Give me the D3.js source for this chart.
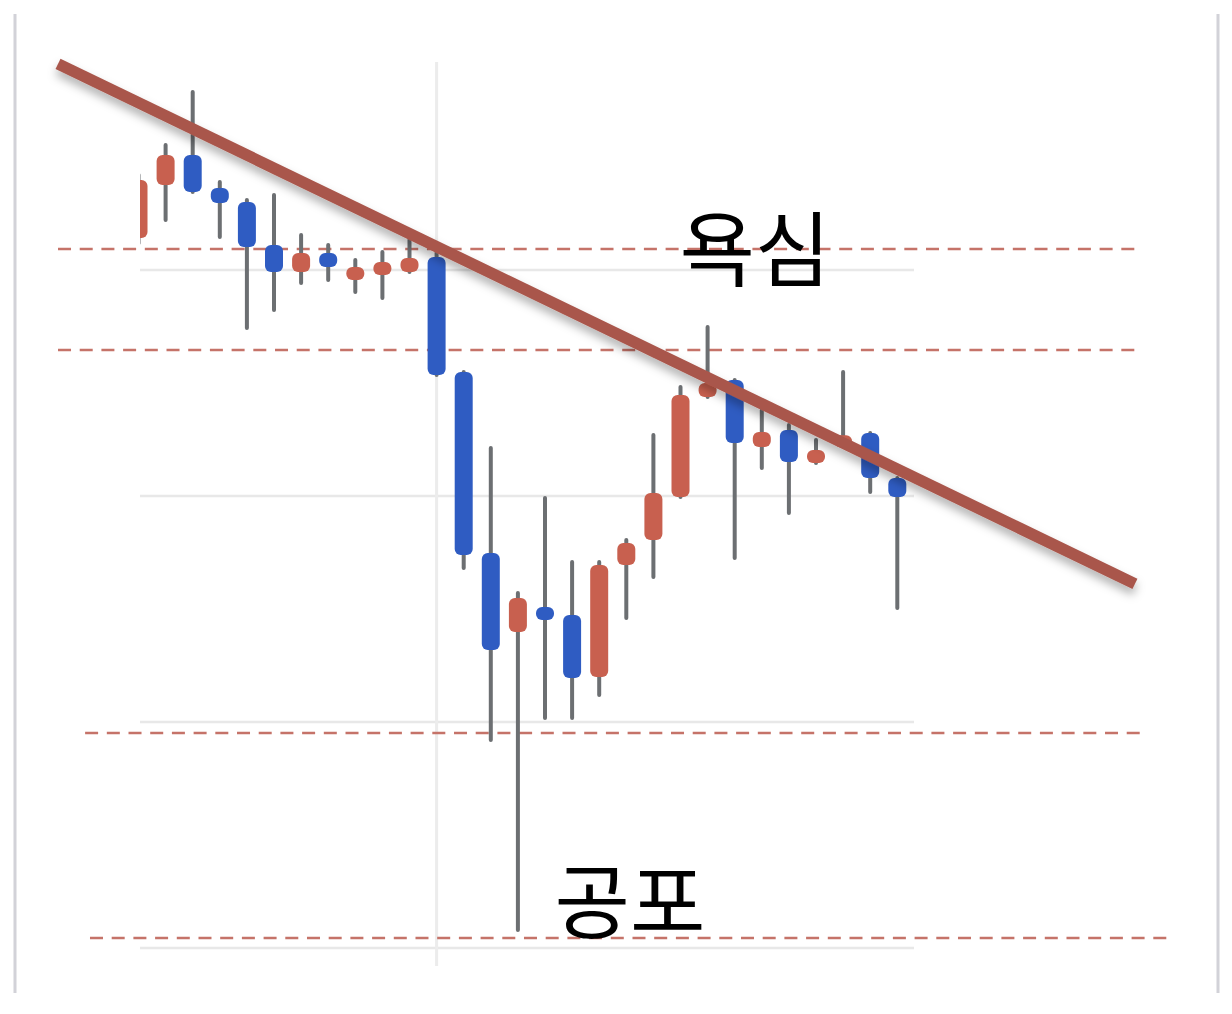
<!DOCTYPE html>
<html lang="ko">
<head>
    <meta charset="UTF-8">
    <title>욕심과 공포</title>
    <script src="https://d3js.org/d3.v7.min.js"></script>
    <style>
        html, body { margin: 0; padding: 0; background: #fff; }
        svg { display: block; }
        .label { font-family: "Noto Sans CJK KR", "Noto Sans", sans-serif; font-size: 82px; font-weight: 400; fill: #000; }
    </style>
</head>
<body>
    <svg width="1232" height="1014"></svg>
    <script>
        // candle values (index = day)
        const opens  = [41.42, 43.76, 45.09, 43.63, 43.01, 41.11, 39.91, 40.75, 39.56, 39.78, 39.91, 40.58, 35.49, 27.48, 23.98,
                        25.09, 24.73, 21.99, 26.95, 28.05, 29.96, 34.38, 35.13, 32.17, 32.92, 31.46, 32.30, 32.79, 30.80];
        const highs  = [44.20, 45.53, 47.88, 43.89, 43.10, 43.32, 41.55, 41.11, 40.44, 40.80, 41.55, 40.88, 35.49, 32.12, 25.71,
                        29.91, 27.08, 27.08, 28.05, 32.70, 34.82, 37.48, 35.13, 33.81, 33.14, 32.48, 35.49, 32.79, 30.80];
        const lows   = [41.20, 42.21, 43.45, 41.46, 37.43, 38.23, 39.42, 39.56, 39.03, 38.76, 39.91, 35.35, 26.81, 19.20, 10.80,
                        20.18, 20.18, 21.19, 24.60, 26.42, 29.96, 34.38, 27.26, 31.24, 29.25, 31.46, 32.25, 30.18, 25.04];
        const closes = [43.98, 45.09, 43.45, 42.96, 41.02, 39.91, 40.75, 40.13, 40.13, 40.35, 40.53, 35.35, 27.39, 23.19, 25.49,
                        24.51, 21.95, 26.95, 27.92, 30.13, 34.47, 35.00, 32.35, 32.83, 31.50, 32.04, 32.55, 30.80, 29.96];

        const gridLevels = [10, 20, 30, 40];

        // dashed support / resistance levels, with start / end in day units
        const levelPrices = [40.93, 36.46, 19.51, 10.44];
        const levelStart  = [-2.97, -2.97, -1.97, -1.79];
        const levelEnd    = [36.96, 36.96, 36.96, 38.07];

        // trend line: two points (day, price)
        const trendDays   = [-2.97, 36.77];
        const trendPrices = [49.12, 26.11];

        const labelTexts = ["욕심", "공포"];

        const candles = opens.map((o, i) => ({ i, o, h: highs[i], l: lows[i], c: closes[i] }));

        const svg = d3.select("svg");

        const x = d3.scaleLinear().domain([0, 28]).range([138.5, 897.3]);
        const y = d3.scaleLinear().domain([10, 40]).range([948, 270]);

        const defs = svg.append("defs");
        defs.append("clipPath").attr("id", "plot-clip")
            .append("rect").attr("x", 140).attr("y", 0).attr("width", 1092).attr("height", 1014);
        const shadow = defs.append("filter").attr("id", "shadow")
            .attr("x", "-10%").attr("y", "-50%").attr("width", "120%").attr("height", "200%");
        shadow.append("feDropShadow")
            .attr("dx", 0).attr("dy", 6).attr("stdDeviation", 5)
            .attr("flood-color", "#000").attr("flood-opacity", 0.3);

        // frame lines left / right
        svg.selectAll(".frame")
            .data([15, 1218])
            .enter().append("line")
            .attr("x1", d => d).attr("x2", d => d)
            .attr("y1", 14).attr("y2", 993)
            .attr("stroke", "#d2d2d8").attr("stroke-width", 3);

        // gridlines
        svg.selectAll(".grid")
            .data(gridLevels)
            .enter().append("line")
            .attr("x1", 140).attr("x2", 914)
            .attr("y1", d => y(d)).attr("y2", d => y(d))
            .attr("stroke", "#e8e8e8").attr("stroke-width", 2.5);

        // vertical marker at day 11
        svg.append("line")
            .attr("x1", x(11)).attr("x2", x(11))
            .attr("y1", 62).attr("y2", 966)
            .attr("stroke", "#ececec").attr("stroke-width", 3);

        // dashed levels
        svg.selectAll(".level")
            .data(levelPrices)
            .enter().append("line")
            .attr("x1", (d, i) => x(levelStart[i]))
            .attr("x2", (d, i) => x(levelEnd[i]))
            .attr("y1", d => y(d)).attr("y2", d => y(d))
            .attr("stroke", "#c57369").attr("stroke-width", 2.5)
            .attr("stroke-dasharray", "13 8.7");

        // candles
        const g = svg.append("g").attr("clip-path", "url(#plot-clip)");
        const bodyW = 18;

        g.selectAll(".wick")
            .data(candles)
            .enter().append("line")
            .attr("x1", d => x(d.i)).attr("x2", d => x(d.i))
            .attr("y1", d => y(d.h)).attr("y2", d => y(d.l))
            .attr("stroke", "#6c6f72").attr("stroke-width", 4)
            .attr("stroke-linecap", "round");

        g.selectAll(".body")
            .data(candles)
            .enter().append("rect")
            .attr("x", d => x(d.i) - bodyW / 2)
            .attr("y", d => {
                const top = y(Math.max(d.o, d.c)), bot = y(Math.min(d.o, d.c));
                return bot - top < 12 ? (top + bot) / 2 - 6 : top;
            })
            .attr("width", bodyW)
            .attr("height", d => Math.max(12, y(Math.min(d.o, d.c)) - y(Math.max(d.o, d.c))))
            .attr("rx", 6)
            .attr("fill", d => d.c >= d.o ? "#c8604f" : "#2f5cc2");

        // trend line
        svg.append("line")
            .attr("x1", x(trendDays[0])).attr("y1", y(trendPrices[0]))
            .attr("x2", x(trendDays[1])).attr("y2", y(trendPrices[1]))
            .attr("stroke", "#a9574c").attr("stroke-width", 11.5)
            .attr("filter", "url(#shadow)");

        // labels
        svg.selectAll(".label")
            .data(labelTexts)
            .enter().append("text")
            .attr("class", "label")
            .attr("x", (d, i) => [755, 630][i])
            .attr("y", (d, i) => [244, 896][i])
            .attr("text-anchor", "middle")
            .attr("dominant-baseline", "central")
            .text(d => d);
    </script>
</body>
</html>
